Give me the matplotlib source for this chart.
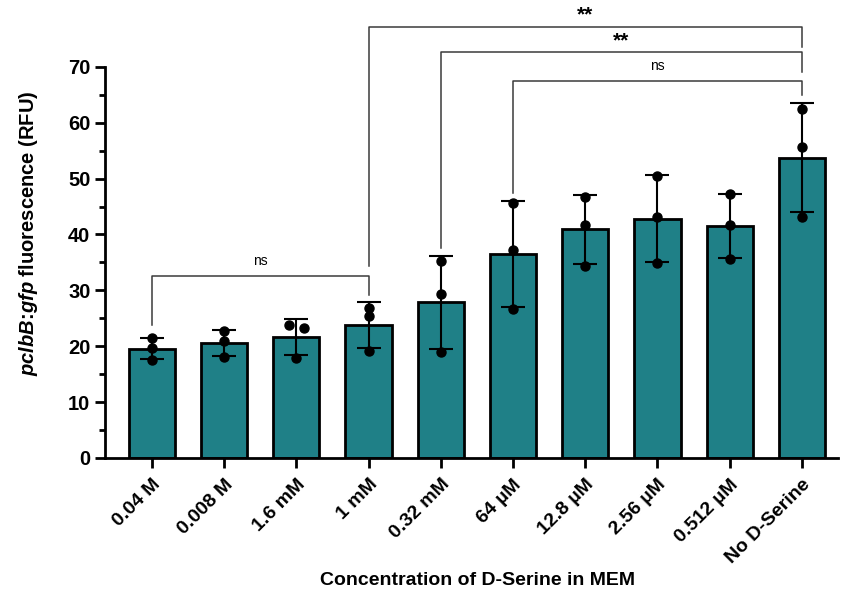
import matplotlib.pyplot as plt
import numpy as np

plt.rcParams['font.family'] = ['Liberation Sans', 'DejaVu Sans']
plt.rcParams['mathtext.fontset'] = 'custom'
plt.rcParams['mathtext.it'] = 'Liberation Sans:italic:bold'
plt.rcParams['mathtext.rm'] = 'Liberation Sans:bold'

# data (three replicates per condition)
labels = ['0.04 M', '0.008 M', '1.6 mM', '1 mM', '0.32 mM', '64 µM',
          '12.8 µM', '2.56 µM', '0.512 µM', 'No D-Serine']
rep1 = [21.5, 22.8, 23.8, 26.8, 35.3, 45.6, 46.7, 50.4, 47.2, 62.5]
rep2 = [19.6, 20.9, 23.3, 25.4, 29.4, 37.2, 41.7, 43.2, 41.7, 55.6]
rep3 = [17.6, 18.1, 17.9, 19.1, 18.9, 26.6, 34.4, 34.9, 35.6, 43.2]
# horizontal offsets of the replicate dots (only 1.6 mM is spread)
jit1 = [0, 0, -0.1, 0, 0, 0, 0, 0, 0, 0]
jit2 = [0, 0, 0.1, 0, 0, 0, 0, 0, 0, 0]
jit3 = [0, 0, 0, 0, 0, 0, 0, 0, 0, 0]

reps = np.array([rep1, rep2, rep3])
means = reps.mean(axis=0)
sds = reps.std(axis=0, ddof=1)
x = np.arange(len(labels))

# significance brackets: (left idx, right idx, bar y, left leg bottom, right leg bottom, text)
brackets = [
    (0, 3, 32.6, 23.8, 29.2, 'ns'),
    (3, 9, 77.2, 34.4, 73.5, '**'),
    (4, 9, 72.6, 37.6, 69.0, '**'),
    (5, 9, 67.55, 47.4, 65.0, 'ns'),
]

fig = plt.figure(figsize=(8.43, 5.97), dpi=100)
ax = fig.add_axes([0.1246, 0.233, 0.8694, 0.655])

bar_color = '#1f8087'
ax.bar(x, means, width=0.64, color=bar_color, edgecolor='black', linewidth=2, zorder=2)
ax.errorbar(x, means, yerr=sds, fmt='none', ecolor='black', elinewidth=1.5,
            capsize=8.5, capthick=1.5, zorder=3)
for r, j in zip(reps, [jit1, jit2, jit3]):
    ax.plot(x + np.array(j), r, 'o', color='black', markersize=6.5, zorder=4, clip_on=False)

for li, ri, yb, yl, yr, txt in brackets:
    ax.plot([li, li, ri, ri], [yl, yb, yb, yr], color='#3a3a3a', lw=1.1,
            clip_on=False, zorder=1)
    if txt == 'ns':
        ax.text((li + ri) / 2, yb + 1.4, txt, ha='center', va='bottom',
                fontsize=10, fontweight='normal')
    else:
        ax.text((li + ri) / 2, yb + 0.4, txt, ha='center', va='bottom',
                fontsize=15, fontweight='bold')

ax.set_xlim(-0.65, 9.5)
ax.set_ylim(0, 70)
ax.set_yticks(np.arange(0, 71, 10))
ax.set_yticks(np.arange(0, 71, 5), minor=True)
ax.set_xticks(x)
ax.set_xticklabels(labels, rotation=45, ha='right', rotation_mode='anchor',
                   fontsize=14, fontweight='bold')
for lab in ax.get_yticklabels():
    lab.set_fontweight('bold')
    lab.set_fontsize(14.5)
ax.tick_params(axis='both', which='major', width=2, length=7)
ax.tick_params(axis='y', which='minor', width=2, length=4)
ax.tick_params(axis='x', pad=6)

for s in ['top', 'right']:
    ax.spines[s].set_visible(False)
for s in ['left', 'bottom']:
    ax.spines[s].set_linewidth(2)

ax.set_xlabel('Concentration of D-Serine in MEM', fontsize=14, fontweight='bold')
ax.xaxis.set_label_coords(0.508, -0.292)
ax.set_ylabel(r'$\mathit{pclbB}$:$\mathit{gfp}$ fluorescence (RFU)', fontsize=14.5,
              fontweight='bold')
ax.yaxis.set_label_coords(-0.089, 0.575)

fig.savefig('out.png', dpi=100)
